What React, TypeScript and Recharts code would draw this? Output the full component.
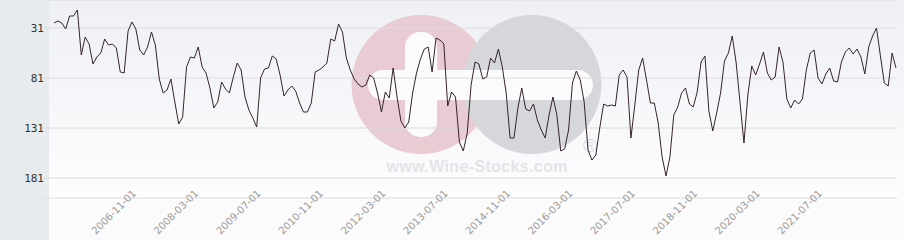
import { CartesianGrid, Line, LineChart, XAxis, YAxis } from "recharts";

// monthly rank, starting January 2005 (lower is better, axis is reversed)
const START_YEAR = 2005;
const RANKS = [
  26, 24, 26, 32, 19, 19, 13, 58, 40, 47, 67, 60, 56, 42, 48, 47, 51, 75, 76, 34, 25, 32, 53, 58, 50, 35, 48,
  82, 96, 93, 82, 105, 127, 120, 70, 60, 61, 50, 70, 76, 91, 111, 105, 85, 92, 96, 80, 66, 73, 100, 113, 121, 130, 81,
  72, 71, 59, 62, 78, 99, 93, 89, 94, 106, 115, 115, 106, 75, 73, 70, 66, 42, 44, 27, 35, 61, 73, 82, 87, 90, 88,
  78, 81, 96, 115, 95, 101, 71, 100, 124, 131, 125, 96, 76, 62, 52, 50, 75, 41, 43, 47, 109, 95, 100, 145, 154, 136, 88,
  65, 67, 82, 80, 61, 66, 52, 70, 96, 141, 141, 111, 91, 112, 114, 107, 123, 133, 141, 118, 100, 118, 154, 152, 133, 86, 74, 83,
  105, 153, 163, 158, 131, 107, 109, 108, 109, 78, 73, 80, 141, 108, 73, 61, 83, 106, 106, 126, 160, 179, 160, 118, 110, 96, 91,
  107, 110, 95, 65, 59, 114, 134, 116, 96, 64, 56, 39, 66, 106, 146, 98, 69, 78, 67, 55, 76, 83, 80, 50, 65, 102, 111,
  103, 107, 102, 73, 56, 53, 81, 87, 77, 71, 84, 85, 65, 55, 51, 57, 52, 60, 77, 50, 39, 31, 59, 86, 89, 56, 71,
];

const Y_TICKS = [31, 81, 131, 181];

const X_LABELS = [
  "2006-11-01", "2008-03-01", "2009-07-01", "2010-11-01", "2012-03-01", "2013-07-01",
  "2014-11-01", "2016-03-01", "2017-07-01", "2018-11-01", "2020-03-01", "2021-07-01",
];

const DATES = RANKS.map((_, i) => {
  const y = START_YEAR + Math.floor(i / 12);
  const m = (i % 12) + 1;
  return `${y}-${String(m).padStart(2, "0")}-01`;
});

const data = DATES.map((date, i) => ({ date, rank: RANKS[i] }));

function DateTick({ x, y, payload }: { x?: number; y?: number; payload?: { value: string } }) {
  if (!payload || !X_LABELS.includes(payload.value)) return <g />;
  const tx = (x ?? 0) - 3;
  const ty = (y ?? 0) - 4;
  return (
    <text
      x={tx}
      y={ty}
      textAnchor="end"
      transform={`rotate(-45 ${tx} ${ty})`}
      fontSize={10}
      fontFamily="DejaVu Sans"
      fill="#9a9a9a"
    >
      {payload.value}
    </text>
  );
}

function Watermark() {
  return (
    <svg width={904} height={240} style={{ position: "absolute", left: 0, top: 0 }}>
      <circle cx={421} cy={84.5} r={69.5} fill="#e9cbd3" />
      <circle cx={532} cy={84.5} r={69.5} fill="#d6d7db" />
      <rect x={405} y={32} width={32} height={105} rx={15} fill="#fbfbfc" />
      <rect x={368} y={70} width={225} height={30} rx={15} fill="#fbfbfc" />
      <text
        x={477}
        y={172}
        textAnchor="middle"
        fontSize={16}
        fontWeight="bold"
        fontFamily="Liberation Sans"
        fill="#e4e4e7"
        textLength={181}
      >
        www.Wine-Stocks.com
      </text>
      <text x={590} y={152} textAnchor="middle" fontSize={19} fontFamily="Liberation Sans" fill="#d8d8dc">
        ®
      </text>
    </svg>
  );
}

export default function App() {
  return (
    <div style={{ position: "absolute", left: 0, top: 0, width: 904, height: 240, background: "#fbfbfc" }}>
      <div
        style={{
          position: "absolute",
          left: 49,
          top: 0,
          width: 855,
          height: 199,
          background: "linear-gradient(#eff0f5, #fdfdfe)",
        }}
      />
      <div style={{ position: "absolute", left: 0, top: 0, width: 49, height: 240, background: "#e8ebee" }} />
      <Watermark />
      <div style={{ position: "absolute", left: 0, top: 0 }}>
        <LineChart width={904} height={240} data={data} margin={{ top: 0, right: 7, bottom: 0, left: 0 }}>
          <CartesianGrid horizontal vertical={false} stroke="#dcdcdc" strokeOpacity={1} />
          <XAxis
            dataKey="date"
            interval={0}
            tick={<DateTick />}
            tickLine={false}
            axisLine={false}
            tickSize={0}
            tickMargin={0}
            height={42}
            padding={{ left: 10, right: 1 }}
          />
          <YAxis
            reversed
            domain={[3, 201]}
            ticks={Y_TICKS}
            width={44}
            tickLine={false}
            axisLine={false}
            tickSize={0}
            tickMargin={0}
            tick={{ fontSize: 11, fontFamily: "DejaVu Sans Mono", fill: "#333" }}
          />
          <Line
            type="linear"
            dataKey="rank"
            stroke="#35242c"
            strokeWidth={1}
            dot={false}
            isAnimationActive={false}
          />
        </LineChart>
      </div>
    </div>
  );
}
